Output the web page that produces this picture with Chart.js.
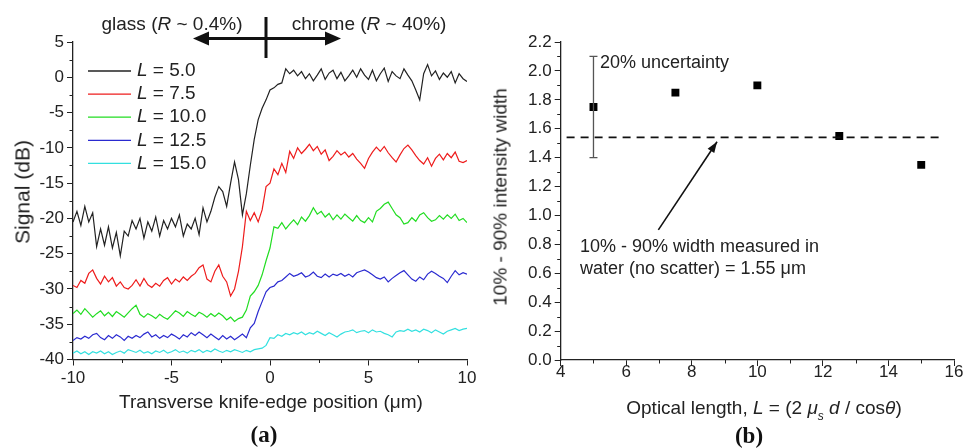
<!DOCTYPE html>
<html><head><meta charset="utf-8">
<script src="https://cdn.jsdelivr.net/npm/chart.js@4.4.1/dist/chart.umd.min.js"></script>
<style>
html,body{margin:0;padding:0;background:#fff;overflow:hidden;}
#wrap{position:relative;width:963px;height:448px;overflow:hidden;background:#fff;}
.box{position:absolute;top:0;height:448px;}
.t{position:absolute;font-family:"Liberation Sans",Arial,sans-serif;color:#222;white-space:nowrap;line-height:1;transform:translate(-50%,-50%);}
.l{transform:translate(0,-50%);}
.rot{transform:translate(-50%,-50%) rotate(-90deg);}
.lab{font-family:"Liberation Serif","Times New Roman",serif;font-weight:bold;font-size:23px;color:#111;}
</style></head>
<body>
<div id="wrap">
  <div class="box" style="left:0;width:480px;"><canvas id="ca"></canvas></div>
  <div class="box" style="left:480px;width:500px;"><canvas id="cb"></canvas></div>

  <div class="t" style="left:172px;top:23px;font-size:19px;">glass (<i>R</i> ~ 0.4%)</div>
  <div class="t" style="left:369px;top:23px;font-size:19px;">chrome (<i>R</i> ~ 40%)</div>
  <div class="t rot" style="left:22px;top:192px;font-size:21px;">Signal (dB)</div>
  <div class="t" style="left:271px;top:401px;font-size:19px;">Transverse knife-edge position (&mu;m)</div>
  <div class="t lab" style="left:264px;top:434px;">(a)</div>

  <div class="t rot" style="left:500px;top:197px;font-size:19px;">10% - 90% intensity width</div>
  <div class="t" style="left:764px;top:407px;font-size:19px;">Optical length, <i>L</i> = (2 <i>&mu;<span style="font-size:12px;position:relative;top:6px;">s</span></i> <i>d</i> / cos<i>&theta;</i>)</div>
  <div class="t lab" style="left:749px;top:435px;">(b)</div>
  <div class="t l" style="left:600px;top:62px;font-size:18px;">20% uncertainty</div>
  <div class="t l" style="left:580px;top:246px;font-size:18px;">10% - 90% width measured in</div>
  <div class="t l" style="left:580px;top:268px;font-size:18px;">water (no scatter) = 1.55 &mu;m</div>
</div>
<script>
// ---------- Panel (a) data ----------
const positions = [
-10,-9.8,-9.6,-9.4,-9.2,-9,-8.8,-8.6,-8.4,-8.2,
-8,-7.8,-7.6,-7.4,-7.2,-7,-6.8,-6.6,-6.4,-6.2,
-6,-5.8,-5.6,-5.4,-5.2,-5,-4.8,-4.6,-4.4,-4.2,
-4,-3.8,-3.6,-3.4,-3.2,-3,-2.8,-2.6,-2.4,-2.2,
-2,-1.8,-1.6,-1.4,-1.2,-1,-0.8,-0.6,-0.4,-0.2,
0,0.2,0.4,0.6,0.8,1,1.2,1.4,1.6,1.8,
2,2.2,2.4,2.6,2.8,3,3.2,3.4,3.6,3.8,
4,4.2,4.4,4.6,4.8,5,5.2,5.4,5.6,5.8,
6,6.2,6.4,6.6,6.8,7,7.2,7.4,7.6,7.8,
8,8.2,8.4,8.6,8.8,9,9.2,9.4,9.6,9.8,
10];
const signalL50 = [
-20.5,-19.0,-21.0,-18.3,-20.5,-19.2,-24.0,-21.5,-23.8,-21.2,
-24.2,-22.0,-25.3,-21.8,-22.5,-20.3,-21.5,-20.0,-22.8,-20.5,
-21.8,-19.8,-22.5,-20.3,-21.5,-20.0,-21.2,-19.5,-22.5,-20.8,
-21.5,-20.0,-22.3,-18.5,-20.5,-19.0,-17.0,-15.5,-16.2,-18.3,
-15.0,-12.0,-14.5,-19.5,-16.5,-12.5,-8.8,-6.0,-4.4,-3.2,
-1.8,-1.5,-1.0,-0.8,1.2,0.5,1.0,0.2,0.8,-0.2,
0.5,-0.5,0.3,1.2,-0.3,0.6,1.0,-0.2,0.7,-0.5,
0.2,1.0,0.0,1.2,0.3,-0.3,1.0,-0.5,0.5,1.3,
-0.6,0.8,0.2,-0.2,1.2,0.3,-0.5,-1.8,-3.2,0.5,
1.8,0.2,0.9,-0.3,0.6,0.0,0.8,-0.8,0.5,-0.2,
-0.6];
const signalL75 = [
-29.5,-29.8,-28.8,-29.2,-27.8,-27.3,-28.5,-29.3,-28.2,-29.0,
-28.4,-29.6,-29.0,-29.8,-30.0,-29.5,-28.7,-29.6,-28.5,-29.4,
-29.8,-29.2,-29.6,-28.8,-28.4,-29.3,-28.6,-29.0,-28.3,-28.8,
-28.2,-27.8,-27.0,-26.6,-28.6,-29.0,-27.5,-26.6,-28.2,-29.0,
-31.0,-30.0,-27.5,-24.0,-19.0,-20.3,-19.2,-20.5,-18.8,-15.5,
-15.0,-13.0,-13.8,-12.2,-13.5,-10.5,-11.5,-10.0,-10.8,-10.2,
-9.5,-10.4,-9.8,-10.9,-10.3,-11.8,-11.2,-10.4,-11.0,-10.6,
-11.3,-10.8,-11.6,-12.2,-12.9,-11.5,-10.6,-9.9,-10.5,-9.8,
-10.7,-11.4,-12.0,-11.0,-10.1,-9.6,-10.3,-11.1,-11.8,-12.3,
-11.4,-12.6,-11.5,-10.9,-11.7,-10.8,-11.4,-10.6,-11.9,-12.1,
-11.8];
const signalL100 = [
-33.5,-33.0,-33.6,-32.8,-33.4,-34.0,-33.5,-33.1,-33.8,-33.3,
-33.9,-33.2,-33.6,-34.0,-33.4,-32.8,-32.3,-33.6,-34.0,-33.5,
-33.8,-34.2,-33.6,-34.0,-34.3,-33.7,-33.1,-33.4,-33.9,-33.2,
-33.6,-33.9,-33.3,-33.6,-34.0,-33.5,-33.9,-33.4,-33.8,-34.4,
-34.0,-34.6,-34.2,-34.0,-33.0,-31.0,-30.4,-29.5,-28.0,-26.0,
-24.2,-21.2,-21.4,-20.6,-21.5,-20.8,-20.2,-20.9,-19.8,-20.4,
-19.6,-18.5,-19.4,-19.0,-19.8,-19.3,-20.2,-19.5,-20.1,-19.4,
-19.9,-20.4,-19.6,-20.3,-20.6,-19.9,-20.5,-19.0,-18.6,-18.0,
-17.7,-18.6,-19.5,-19.9,-20.8,-20.6,-19.9,-20.4,-19.5,-19.2,
-19.9,-20.4,-20.2,-19.6,-20.1,-19.5,-20.0,-19.4,-20.3,-20.0,
-20.6];
const signalL125 = [
-37.3,-36.9,-37.1,-36.7,-37.0,-36.5,-36.3,-36.9,-37.2,-36.6,
-37.0,-36.5,-36.8,-37.3,-36.7,-37.0,-36.6,-36.9,-36.4,-36.1,
-36.8,-36.5,-37.0,-36.6,-36.9,-36.4,-36.7,-37.1,-36.5,-36.8,
-36.2,-36.6,-36.1,-36.5,-36.9,-36.4,-36.8,-37.2,-36.6,-37.1,
-36.7,-37.2,-36.8,-36.4,-36.9,-35.5,-34.9,-33.2,-31.8,-30.4,
-29.8,-29.6,-29.0,-28.8,-28.3,-27.8,-28.2,-28.0,-27.7,-28.3,
-28.1,-27.6,-28.2,-28.4,-27.9,-28.3,-27.9,-28.1,-27.8,-28.2,
-27.9,-28.3,-27.7,-27.5,-27.3,-27.6,-28.0,-28.4,-28.6,-28.3,
-29.0,-28.5,-28.1,-27.7,-27.4,-28.0,-28.6,-28.9,-28.3,-28.7,
-27.9,-27.5,-27.8,-28.2,-28.5,-29.1,-28.2,-27.4,-28.0,-27.7,
-27.9];
const signalL150 = [
-39.1,-38.8,-39.2,-38.9,-39.3,-38.9,-39.1,-38.8,-39.2,-38.9,
-39.3,-39.0,-38.8,-39.1,-38.6,-38.8,-39.0,-38.7,-39.1,-38.9,
-39.2,-38.8,-39.0,-38.7,-39.1,-38.9,-38.6,-39.0,-38.8,-39.1,
-38.7,-38.9,-38.6,-39.0,-38.7,-38.9,-38.5,-38.8,-39.0,-38.7,
-38.9,-38.6,-38.8,-39.0,-38.7,-38.9,-38.6,-38.5,-38.4,-38.0,
-36.9,-37.0,-36.5,-36.7,-36.3,-36.5,-36.2,-36.4,-36.1,-36.5,
-36.2,-36.4,-36.0,-36.3,-36.6,-36.2,-36.5,-36.8,-36.4,-36.1,
-36.0,-35.8,-36.2,-36.0,-35.9,-36.2,-35.8,-36.1,-36.0,-36.3,
-36.5,-36.8,-36.1,-35.9,-36.0,-35.7,-36.0,-35.8,-36.1,-35.7,
-35.9,-36.2,-35.8,-36.1,-36.4,-36.0,-35.8,-35.6,-35.9,-35.7,
-35.6];
const seriesLabels = ['5.0','7.5','10.0','12.5','15.0'];
const seriesColors = ['#222222','#ee1c1c','#22dd22','#2a2ad0','#33e0e0'];
const seriesValues = [signalL50, signalL75, signalL100, signalL125, signalL150];
const xTicksA = [-10,-5,0,5,10];
const xMinorA = [-7.5,-2.5,2.5,7.5];
const yMinorA = [-37.5,-32.5,-27.5,-22.5,-17.5,-12.5,-7.5,-2.5,2.5];

// ---------- Panel (b) data ----------
const opticalLength = [5, 7.5, 10, 12.5, 15];
const intensityWidth = [1.75, 1.85, 1.9, 1.55, 1.35];
const errorBarLow = [1.40];
const errorBarHigh = [2.10];
const waterWidth = 1.54;
const waterLineX = [4.18, 15.62];
const arrowFrom = [6.98, 0.90];
const arrowTo = [8.77, 1.51];
const xMinorB = [5,7,9,11,13,15];
const yMinorB = [0.1,0.3,0.5,0.7,0.9,1.1,1.3,1.5,1.7,1.9,2.1];

Chart.defaults.font.family = '"Liberation Sans", Arial, sans-serif';
Chart.defaults.color = '#222';

const axisCommon = (extra) => Object.assign({
  grid: { display: true, drawOnChartArea: false, drawTicks: true, tickLength: 6, color: '#222', lineWidth: 1 },
  border: { display: true, color: '#222', width: 1.3 },
}, extra);

function drawMinor(chart, xs, ys) {
  const {ctx, scales:{x, y}} = chart;
  ctx.save();
  ctx.strokeStyle = '#222'; ctx.lineWidth = 1;
  ctx.beginPath();
  for (const v of xs) { const p = Math.round(x.getPixelForValue(v)) + 0.5; ctx.moveTo(p, x.top); ctx.lineTo(p, x.top + 3.5); }
  for (const v of ys) { const p = Math.round(y.getPixelForValue(v)) + 0.5; ctx.moveTo(y.right, p); ctx.lineTo(y.right - 3.5, p); }
  ctx.stroke();
  ctx.restore();
}

function arrowHead(ctx, x1, y1, x2, y2, len, half) {
  const a = Math.atan2(y2 - y1, x2 - x1);
  ctx.beginPath();
  ctx.moveTo(x2, y2);
  ctx.lineTo(x2 - len*Math.cos(a) + half*Math.sin(a), y2 - len*Math.sin(a) - half*Math.cos(a));
  ctx.lineTo(x2 - len*Math.cos(a) - half*Math.sin(a), y2 - len*Math.sin(a) + half*Math.cos(a));
  ctx.closePath();
  ctx.fill();
}

const pluginA = {
  id: 'decorA',
  afterDraw(chart) {
    drawMinor(chart, xMinorA, yMinorA);
    const ctx = chart.ctx;
    ctx.save();
    // legend
    for (let i = 0; i < seriesLabels.length; i++) {
      const yy = 71 + i * 23.1;
      ctx.strokeStyle = seriesColors[i]; ctx.lineWidth = 1.3;
      ctx.beginPath(); ctx.moveTo(88, yy); ctx.lineTo(131, yy); ctx.stroke();
      ctx.fillStyle = '#222'; ctx.textBaseline = 'middle';
      ctx.font = 'italic 19px "Liberation Sans", Arial, sans-serif';
      ctx.fillText('L', 137, yy);
      const w = ctx.measureText('L').width;
      ctx.font = '19px "Liberation Sans", Arial, sans-serif';
      ctx.fillText(' = ' + seriesLabels[i], 137 + w, yy);
    }
    // glass/chrome double arrow
    ctx.strokeStyle = '#111'; ctx.fillStyle = '#111'; ctx.lineWidth = 3;
    ctx.beginPath(); ctx.moveTo(205, 38.5); ctx.lineTo(328, 38.5); ctx.stroke();
    arrowHead(ctx, 260, 38.5, 193, 38.5, 16, 7);
    arrowHead(ctx, 270, 38.5, 341, 38.5, 16, 7);
    ctx.lineWidth = 3;
    ctx.beginPath(); ctx.moveTo(266, 17); ctx.lineTo(266, 58); ctx.stroke();
    ctx.restore();
  }
};

new Chart(document.getElementById('ca'), {
  type: 'line',
  data: {
    datasets: seriesValues.map((vals, i) => ({
      label: 'L = ' + seriesLabels[i],
      data: positions.map((p, j) => ({x: p, y: vals[j]})),
      borderColor: seriesColors[i],
      borderWidth: 1.2,
      pointRadius: 0,
      tension: 0,
      fill: false
    }))
  },
  options: {
    responsive: true, maintainAspectRatio: false, animation: false,
    layout: { padding: { left: 0, top: 42, right: 13, bottom: 0 } },
    plugins: { legend: { display: false }, tooltip: { enabled: false } },
    scales: {
      x: axisCommon({
        type: 'linear', min: -10, max: 10,
        afterBuildTicks: (s) => { s.ticks = xTicksA.map(v => ({value: v})); },
        ticks: { font: { size: 17 }, padding: 3, maxRotation: 0, color: '#222' },
        afterFit: (s) => { s.height = 88.5; }
      }),
      y: axisCommon({
        type: 'linear', min: -40, max: 5,
        ticks: { stepSize: 5, font: { size: 17 }, padding: 3, color: '#222' },
        afterFit: (s) => { s.width = 73; }
      })
    }
  },
  plugins: [pluginA]
});

const pluginB = {
  id: 'decorB',
  afterDatasetsDraw(chart) {
    const {ctx, scales:{x, y}} = chart;
    ctx.save();
    // error bar on first point
    const ex = x.getPixelForValue(opticalLength[0]);
    const y1 = y.getPixelForValue(errorBarLow[0]);
    const y2 = y.getPixelForValue(errorBarHigh[0]);
    ctx.strokeStyle = '#555'; ctx.lineWidth = 1.3;
    ctx.beginPath();
    ctx.moveTo(ex, y1); ctx.lineTo(ex, y2);
    ctx.moveTo(ex - 4, y1); ctx.lineTo(ex + 4, y1);
    ctx.moveTo(ex - 4, y2); ctx.lineTo(ex + 4, y2);
    ctx.stroke();
    // annotation arrow
    const ax1 = x.getPixelForValue(arrowFrom[0]), ay1 = y.getPixelForValue(arrowFrom[1]);
    const ax2 = x.getPixelForValue(arrowTo[0]), ay2 = y.getPixelForValue(arrowTo[1]);
    ctx.strokeStyle = '#111'; ctx.fillStyle = '#111'; ctx.lineWidth = 1.6;
    ctx.beginPath(); ctx.moveTo(ax1, ay1); ctx.lineTo(ax2, ay2); ctx.stroke();
    arrowHead(ctx, ax1, ay1, ax2, ay2, 11, 4);
    ctx.restore();
  },
  afterDraw(chart) { drawMinor(chart, xMinorB, yMinorB); }
};

new Chart(document.getElementById('cb'), {
  type: 'scatter',
  data: {
    datasets: [
      {
        type: 'line',
        label: 'water',
        data: waterLineX.map(v => ({x: v, y: waterWidth})),
        borderColor: '#111', borderWidth: 1.8, borderDash: [8, 6],
        pointRadius: 0, fill: false
      },
      {
        label: 'width',
        data: opticalLength.map((v, i) => ({x: v, y: intensityWidth[i]})),
        pointStyle: 'rect', pointRadius: 5.6, backgroundColor: '#000', borderColor: '#000', borderWidth: 0
      }
    ]
  },
  options: {
    responsive: true, maintainAspectRatio: false, animation: false,
    layout: { padding: { left: 0, top: 42, right: 26, bottom: 0 } },
    plugins: { legend: { display: false }, tooltip: { enabled: false } },
    scales: {
      x: axisCommon({
        type: 'linear', min: 4, max: 16,
        ticks: { stepSize: 2, font: { size: 17 }, padding: -4, maxRotation: 0, color: '#222' },
        afterFit: (s) => { s.height = 88; }
      }),
      y: axisCommon({
        type: 'linear', min: 0, max: 2.2,
        ticks: { stepSize: 0.2, font: { size: 17 }, padding: 3, color: '#222', callback: (v) => Number(v).toFixed(1) },
        afterFit: (s) => { s.width = 80.7; }
      })
    }
  },
  plugins: [pluginB]
});
</script>
</body></html>
